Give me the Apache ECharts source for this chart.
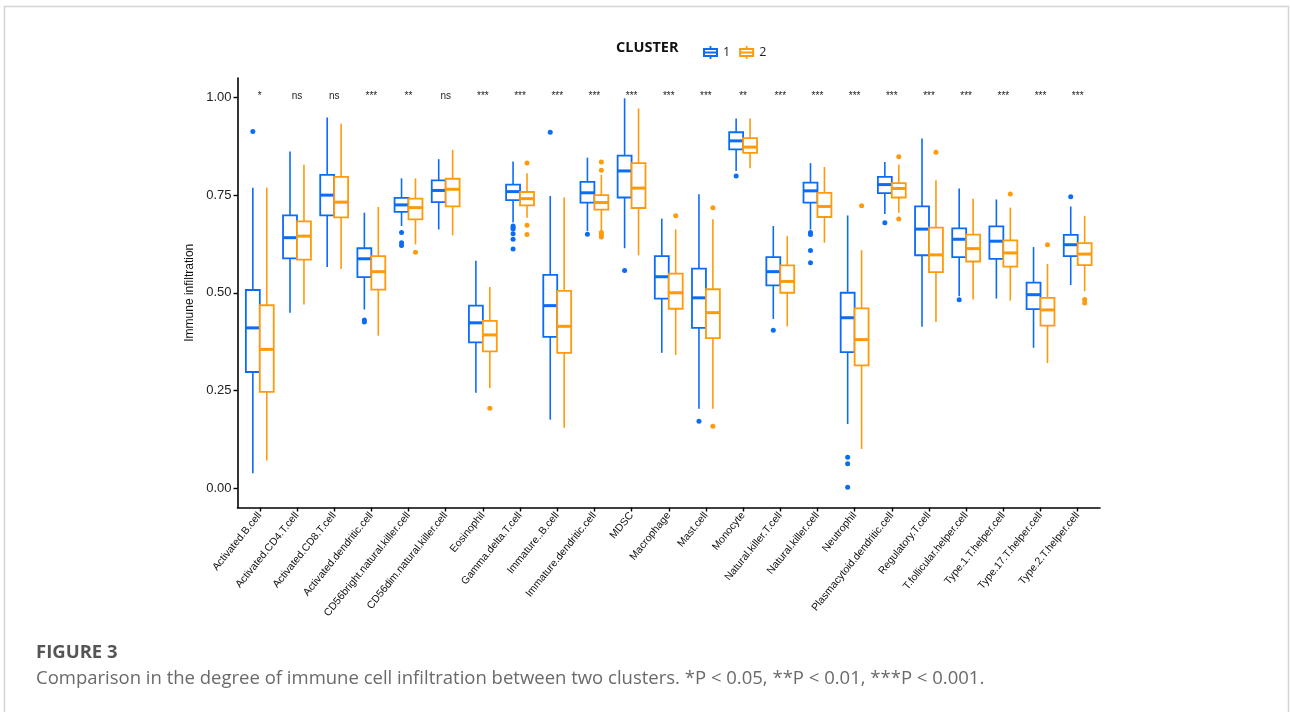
<!DOCTYPE html>
<html lang="en">
  <head>
    <meta charset="UTF-8" />
    <title>Immune infiltration by cluster</title>
    <script src="https://cdn.jsdelivr.net/npm/echarts@6/dist/echarts.min.js"></script>
    <style>
      * {
        margin: 0;
        padding: 0;
      }
      body {
        background: #fff;
        overflow: hidden;
      }
      #chart {
        width: 1290px;
        height: 712px;
      }
    </style>
  </head>
  <body>
    <div id="chart"></div>
    <script>
      const categories = [
        "Activated.B.cell", "Activated.CD4.T.cell", "Activated.CD8.T.cell",
        "Activated.dendritic.cell", "CD56bright.natural.killer.cell",
        "CD56dim.natural.killer.cell", "Eosinophil", "Gamma.delta.T.cell",
        "Immature..B.cell", "Immature.dendritic.cell", "MDSC", "Macrophage",
        "Mast.cell", "Monocyte", "Natural.killer.T.cell", "Natural.killer.cell",
        "Neutrophil", "Plasmacytoid.dendritic.cell", "Regulatory.T.cell",
        "T.follicular.helper.cell", "Type.1.T.helper.cell",
        "Type.17.T.helper.cell", "Type.2.T.helper.cell",
      ];
      const sigLabels = [
        "*", "ns", "ns", "***", "**", "ns", "***", "***", "***", "***", "***",
        "***", "***", "**", "***", "***", "***", "***", "***", "***", "***",
        "***", "***",
      ];
      const yTicks = [0, 0.25, 0.5, 0.75, 1];

      // [lower whisker, q1, median, q3, upper whisker]
      const cluster1Stats = [
        [0.038, 0.297, 0.41, 0.507, 0.769],
        [0.449, 0.588, 0.641, 0.698, 0.862],
        [0.566, 0.698, 0.75, 0.802, 0.949],
        [0.457, 0.54, 0.587, 0.614, 0.705],
        [0.671, 0.707, 0.725, 0.743, 0.793],
        [0.662, 0.732, 0.762, 0.788, 0.842],
        [0.244, 0.373, 0.423, 0.467, 0.582],
        [0.68, 0.737, 0.759, 0.777, 0.836],
        [0.175, 0.387, 0.467, 0.546, 0.748],
        [0.658, 0.731, 0.756, 0.784, 0.846],
        [0.614, 0.744, 0.812, 0.851, 0.998],
        [0.346, 0.485, 0.541, 0.594, 0.69],
        [0.203, 0.41, 0.487, 0.562, 0.752],
        [0.812, 0.867, 0.889, 0.911, 0.946],
        [0.433, 0.519, 0.554, 0.591, 0.671],
        [0.662, 0.731, 0.761, 0.782, 0.832],
        [0.164, 0.348, 0.436, 0.5, 0.698],
        [0.702, 0.755, 0.777, 0.797, 0.835],
        [0.413, 0.596, 0.663, 0.721, 0.895],
        [0.491, 0.591, 0.637, 0.665, 0.767],
        [0.485, 0.587, 0.632, 0.67, 0.739],
        [0.359, 0.458, 0.495, 0.526, 0.617],
        [0.52, 0.594, 0.623, 0.648, 0.721],
      ];
      const cluster2Stats = [
        [0.07, 0.246, 0.355, 0.468, 0.769],
        [0.47, 0.585, 0.645, 0.683, 0.828],
        [0.561, 0.693, 0.732, 0.797, 0.933],
        [0.39, 0.508, 0.554, 0.594, 0.72],
        [0.624, 0.688, 0.718, 0.741, 0.793],
        [0.647, 0.721, 0.765, 0.792, 0.866],
        [0.256, 0.35, 0.392, 0.428, 0.515],
        [0.692, 0.724, 0.741, 0.758, 0.806],
        [0.154, 0.346, 0.414, 0.505, 0.744],
        [0.658, 0.713, 0.731, 0.75, 0.802],
        [0.596, 0.717, 0.768, 0.832, 0.972],
        [0.341, 0.459, 0.5, 0.549, 0.662],
        [0.203, 0.384, 0.449, 0.509, 0.688],
        [0.819, 0.858, 0.873, 0.896, 0.946],
        [0.414, 0.5, 0.529, 0.57, 0.645],
        [0.628, 0.694, 0.721, 0.756, 0.822],
        [0.1, 0.314, 0.38, 0.46, 0.609],
        [0.705, 0.744, 0.767, 0.781, 0.828],
        [0.425, 0.553, 0.597, 0.667, 0.788],
        [0.483, 0.58, 0.613, 0.649, 0.741],
        [0.48, 0.567, 0.602, 0.634, 0.718],
        [0.32, 0.416, 0.456, 0.487, 0.574],
        [0.504, 0.571, 0.599, 0.627, 0.697],
      ];
      const cluster1Outliers = [
        [0.913], [], [], [0.43, 0.425], [0.654, 0.628, 0.621], [], [],
        [0.671, 0.667, 0.663, 0.651, 0.637, 0.612], [0.911], [0.65], [0.557],
        [], [0.171], [0.799], [0.404], [0.654, 0.649, 0.608, 0.577],
        [0.079, 0.062, 0.002], [0.679], [], [0.482], [], [], [0.746],
      ];
      const cluster2Outliers = [
        [], [], [], [], [0.604], [], [0.204], [0.832, 0.673, 0.649], [],
        [0.835, 0.814, 0.654, 0.649, 0.643], [], [0.697], [0.718, 0.158], [],
        [], [], [0.723], [0.848, 0.689], [0.86], [], [0.753], [0.623],
        [0.483, 0.474],
      ];

      const BLUE = "#0a6cf7";
      const ORANGE = "#ff9a0a";
      const DODGE = 0.1875;
      const BOX_W = 0.375;
      const FONT = "Liberation Sans, Arial, sans-serif";
      const LEGEND_ICON =
        "path://M0 2L15 2L15 11L0 11Z M2 4L2 5.6L13 5.6L13 4Z M2 7.4L2 9L13 9L13 7.4Z M6.6 0L8.4 0L8.4 2L6.6 2Z M6.6 11L8.4 11L8.4 13L6.6 13Z";

      const gridLeft = 237.5;
      const gridWidth = 862.5;
      const unit = gridWidth / 23.2;

      const boxRenderer = (offset, color) => (params, api) => {
        const x = api.value(0) + offset;
        const cx = api.coord([x, 0])[0];
        const left = api.coord([x - BOX_W / 2, 0])[0];
        const right = api.coord([x + BOX_W / 2, 0])[0];
        const yMin = api.coord([x, api.value(1)])[1];
        const yQ1 = api.coord([x, api.value(2)])[1];
        const yMed = api.coord([x, api.value(3)])[1];
        const yQ3 = api.coord([x, api.value(4)])[1];
        const yMax = api.coord([x, api.value(5)])[1];
        return {
          type: "group",
          children: [
            { type: "line", shape: { x1: cx, y1: yMin, x2: cx, y2: yQ1 }, style: { stroke: color, lineWidth: 1.6 } },
            { type: "line", shape: { x1: cx, y1: yQ3, x2: cx, y2: yMax }, style: { stroke: color, lineWidth: 1.6 } },
            {
              type: "rect",
              shape: { x: left, y: yQ3, width: right - left, height: yQ1 - yQ3 },
              style: { fill: "#fff", stroke: color, lineWidth: 1.8 },
            },
            { type: "line", shape: { x1: left, y1: yMed, x2: right, y2: yMed }, style: { stroke: color, lineWidth: 3 } },
          ],
        };
      };

      const outlierData = (list, offset) => {
        const out = [];
        list.forEach((vals, i) => vals.forEach((v) => out.push([i + offset, v])));
        return out;
      };

      const chart = echarts.init(document.getElementById("chart"));
      chart.setOption({
        animation: false,
        legend: {
          left: 698,
          top: 41,
          itemWidth: 15,
          itemHeight: 13,
          itemGap: 9,
          textStyle: { fontSize: 12.5, color: "#222", fontFamily: "Open Sans" },
          data: [
            { name: "1", icon: LEGEND_ICON, itemStyle: { color: BLUE, borderWidth: 0 } },
            { name: "2", icon: LEGEND_ICON, itemStyle: { color: ORANGE, borderWidth: 0 } },
          ],
        },
        graphic: [
          {
            type: "rect",
            shape: { x: 4.5, y: 6.5, width: 1284, height: 720 },
            style: { fill: "none", stroke: "#d4d4d4", lineWidth: 1.5 },
            silent: true,
          },
          {
            type: "text",
            left: 616,
            top: 40,
            style: { text: "CLUSTER", font: "bold 14.5px Open Sans", fill: "#111" },
          },
          {
            type: "text",
            left: 36,
            top: 643,
            style: { text: "FIGURE 3", font: "bold 18.5px Open Sans", fill: "#555" },
          },
          {
            type: "text",
            left: 36,
            top: 669,
            style: {
              text: "Comparison in the degree of immune cell infiltration between two clusters. *P < 0.05, **P < 0.01, ***P < 0.001.",
              font: "18.5px Open Sans",
              fill: "#6a6a6a",
            },
          },
        ],
        grid: [
          { left: gridLeft, top: 78, width: gridWidth, height: 429.5 },
          { left: gridLeft + 0.1 * unit, top: 78, width: 23 * unit, height: 429.5 },
        ],
        xAxis: [
          {
            type: "value",
            gridIndex: 0,
            min: -0.6,
            max: 22.6,
            axisLine: { show: true, onZero: false, lineStyle: { color: "#000", width: 1.6 } },
            axisTick: { show: false },
            axisLabel: { show: false },
            splitLine: { show: false },
          },
          {
            type: "category",
            gridIndex: 1,
            data: categories,
            axisLine: { show: false, onZero: false },
            axisTick: { show: true, alignWithLabel: true, length: 4, lineStyle: { color: "#000", width: 1.4 } },
            axisLabel: { rotate: 51, interval: 0, fontSize: 10.5, color: "#111", fontFamily: FONT, margin: 6 },
            splitLine: { show: false },
          },
        ],
        yAxis: [
          {
            type: "value",
            gridIndex: 0,
            min: -0.05,
            max: 1.05,
            name: "Immune infiltration",
            nameLocation: "middle",
            nameRotate: 90,
            nameGap: 37,
            nameTextStyle: { fontSize: 12, color: "#111", fontFamily: FONT },
            axisLine: { show: true, onZero: false, lineStyle: { color: "#000", width: 1.6 } },
            axisTick: { show: true, length: 4, customValues: yTicks, lineStyle: { color: "#000", width: 1.4 } },
            axisLabel: {
              customValues: yTicks,
              fontSize: 13,
              color: "#222",
              fontFamily: FONT,
              margin: 6,
              formatter: (v) => v.toFixed(2),
            },
            splitLine: { show: false },
          },
          {
            type: "value",
            gridIndex: 1,
            min: -0.05,
            max: 1.05,
            show: false,
          },
        ],
        series: [
          {
            name: "1",
            type: "custom",
            xAxisIndex: 0,
            yAxisIndex: 0,
            itemStyle: { color: BLUE },
            renderItem: boxRenderer(-DODGE, BLUE),
            encode: { x: 0, y: [1, 2, 3, 4, 5] },
            data: cluster1Stats.map((s, i) => [i, ...s]),
            z: 3,
          },
          {
            name: "2",
            type: "custom",
            xAxisIndex: 0,
            yAxisIndex: 0,
            itemStyle: { color: ORANGE },
            renderItem: boxRenderer(DODGE, ORANGE),
            encode: { x: 0, y: [1, 2, 3, 4, 5] },
            data: cluster2Stats.map((s, i) => [i, ...s]),
            z: 3,
          },
          {
            name: "1",
            type: "scatter",
            xAxisIndex: 0,
            yAxisIndex: 0,
            symbolSize: 5,
            itemStyle: { color: BLUE, opacity: 1 },
            data: outlierData(cluster1Outliers, -DODGE),
            z: 4,
          },
          {
            name: "2",
            type: "scatter",
            xAxisIndex: 0,
            yAxisIndex: 0,
            symbolSize: 5,
            itemStyle: { color: ORANGE, opacity: 1 },
            data: outlierData(cluster2Outliers, DODGE),
            z: 4,
          },
          {
            name: "sig",
            type: "custom",
            xAxisIndex: 0,
            yAxisIndex: 0,
            renderItem: (params, api) => {
              const p = api.coord([api.value(0), 1.0]);
              return {
                type: "text",
                x: p[0],
                y: p[1] - 1,
                style: {
                  text: sigLabels[params.dataIndex],
                  font: "10px " + FONT,
                  fill: "#222",
                  align: "center",
                  verticalAlign: "middle",
                },
              };
            },
            data: categories.map((c, i) => [i, 1.0]),
          },
        ],
      });
    </script>
  </body>
</html>
